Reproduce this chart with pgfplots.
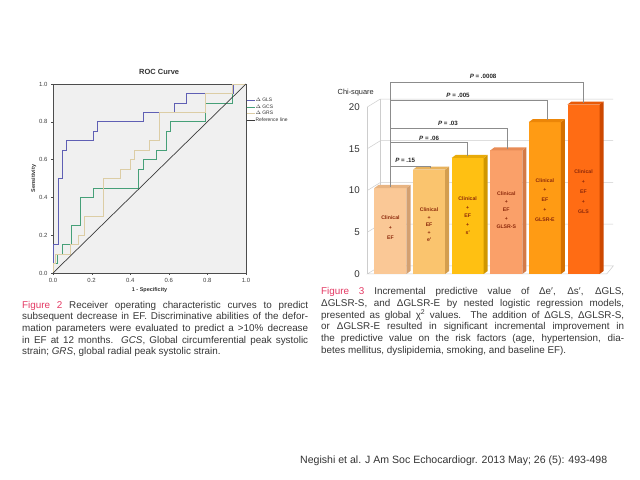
\documentclass[border=0pt]{standalone}
\usepackage{fontspec}
\setmainfont{Liberation Sans}
\usepackage{pgfplots}
\pgfplotsset{compat=1.18}
\definecolor{capred}{RGB}{228,58,100}
\definecolor{captxt}{RGB}{55,55,55}
\definecolor{glsc}{RGB}{95,95,180}
\definecolor{gcsc}{RGB}{70,160,120}
\definecolor{grsc}{RGB}{220,205,165}
\definecolor{refc}{RGB}{60,60,60}
\definecolor{rocbg}{RGB}{240,240,240}
\definecolor{gridc}{RGB}{205,205,205}
\definecolor{brkc}{RGB}{140,140,140}
\definecolor{bartxt}{RGB}{140,40,10}
\definecolor{fA}{RGB}{250,200,150}\definecolor{sA}{RGB}{212,160,112}\definecolor{tA}{RGB}{232,180,130}
\definecolor{fB}{RGB}{250,196,110}\definecolor{sB}{RGB}{212,158,78}\definecolor{tB}{RGB}{232,178,92}
\definecolor{fC}{RGB}{255,192,18}\definecolor{sC}{RGB}{208,150,0}\definecolor{tC}{RGB}{232,170,8}
\definecolor{fD}{RGB}{250,160,105}\definecolor{sD}{RGB}{212,122,70}\definecolor{tD}{RGB}{232,140,86}
\definecolor{fE}{RGB}{255,155,20}\definecolor{sE}{RGB}{212,112,0}\definecolor{tE}{RGB}{236,134,8}
\definecolor{fF}{RGB}{255,108,20}\definecolor{sF}{RGB}{205,72,0}\definecolor{tF}{RGB}{232,90,8}
\newcommand{\Ltwo}[1]{\makebox[286bp][s]{#1}}
\newcommand{\Lthree}[1]{\makebox[303bp][s]{#1}}
\begin{document}
\begin{tikzpicture}
\fill[white] (0,0) rectangle (640bp,480bp);
\useasboundingbox (0,0) rectangle (640bp,480bp);

% ---------------- ROC curve ----------------
\begin{axis}[
  at={(53bp,207bp)}, anchor=south west,
  scale only axis, width=193bp, height=189bp,
  xmin=0, xmax=1, ymin=0, ymax=1,
  xtick={0,0.2,0.4,0.6,0.8,1}, ytick={0,0.2,0.4,0.6,0.8,1},
  tick label style={font=\fontsize{6}{6}\selectfont, text=black!75,
    /pgf/number format/fixed, /pgf/number format/fixed zerofill,
    /pgf/number format/precision=1, /pgf/number format/assume math mode=true},
  tick align=outside, tick pos=left, major tick length=2bp,
  tick style={black!70},
  axis background/.style={fill=rocbg},
  axis line style={black!70, line width=0.5bp},
  title={\bfseries ROC Curve},
  title style={font=\fontsize{7.5}{8}\selectfont, at={(0.55,1)}, anchor=south, yshift=0bp, text=black!80},
  xlabel={\bfseries 1 - Specificity}, ylabel={\bfseries Sensitivity},
  label style={font=\fontsize{5.5}{6}\selectfont, text=black!80},
  xlabel style={yshift=2bp}, ylabel style={yshift=-4bp},
  legend style={at={(1.0,0.93)}, anchor=north west, draw=none, fill=none,
    font=\fontsize{5}{5.5}\selectfont, inner sep=0pt, row sep=0.4bp,
    nodes={inner sep=0.6bp, text=black!80}},
  legend cell align=left,
  legend image code/.code={\draw[#1] (0bp,0bp) -- (8bp,0bp);},
  clip=false,
]
\addplot[glsc, line width=0.7bp] coordinates {
(0,0) (0,0.15) (0.026,0.15) (0.026,0.5) (0.048,0.5) (0.048,0.65) (0.069,0.65) (0.069,0.7)
(0.211,0.7) (0.211,0.75) (0.232,0.75) (0.232,0.8) (0.467,0.8) (0.467,0.85) (0.631,0.85)
(0.631,0.9) (0.692,0.9) (0.692,0.95) (0.934,0.95) (0.934,1) (1,1)};
\addlegendentry{$\Delta$ GLS}
\addplot[gcsc, line width=0.7bp] coordinates {
(0,0) (0,0.05) (0.02,0.05) (0.02,0.1) (0.05,0.1) (0.05,0.15) (0.095,0.15) (0.095,0.25)
(0.143,0.25) (0.143,0.4) (0.211,0.4) (0.211,0.45) (0.441,0.45) (0.441,0.55) (0.467,0.55)
(0.467,0.6) (0.536,0.6) (0.536,0.65) (0.588,0.65) (0.588,0.75) (0.61,0.75) (0.61,0.8)
(0.787,0.8) (0.787,0.9) (0.93,0.9) (0.93,1) (1,1)};
\addlegendentry{$\Delta$ GCS}
\addplot[grsc, line width=0.7bp] coordinates {
(0,0) (0,0.05) (0.01,0.05) (0.01,0.1) (0.09,0.1) (0.09,0.15) (0.13,0.15) (0.13,0.2)
(0.16,0.2) (0.16,0.3) (0.26,0.3) (0.26,0.5) (0.35,0.5) (0.35,0.55) (0.4,0.55) (0.4,0.6)
(0.42,0.6) (0.42,0.65) (0.5,0.65) (0.5,0.7) (0.55,0.7) (0.55,0.85) (0.79,0.85) (0.79,0.95)
(0.93,0.95) (0.93,1) (1,1)};
\addlegendentry{$\Delta$ GRS}
\addplot[refc, line width=0.7bp] coordinates {(0,0) (1,1)};
\addlegendentry{Reference line}
\end{axis}

% ---------------- Chi-square bars ----------------
\begin{axis}[
  at={(367.3bp,206bp)}, anchor=south west,
  scale only axis, width=247.1bp, height=196.2bp,
  xmin=-0.6, xmax=5.8, ymin=0, ymax=23.5, clip=false,
  axis x line=none, axis y line*=left, y axis line style={draw=none},
  ytick={0,5,10,15,20}, major tick length=0pt,
  yticklabel style={font=\fontsize{9.8}{10}\selectfont, text=black!80, xshift=-4bp,
    /pgf/number format/assume math mode=true},
]
% back wall grid and floor
\draw[gridc, line width=0.5bp] (axis cs:-0.6,0) -- (axis cs:5.6,0) -- (axis cs:5.77,0.96) -- (axis cs:-0.263,0.96) -- cycle;
\draw[gridc, line width=0.5bp] (axis cs:-0.6,5) -- (axis cs:-0.263,5.96) -- (axis cs:5.77,5.96);
\draw[gridc, line width=0.5bp] (axis cs:-0.6,10) -- (axis cs:-0.263,10.96) -- (axis cs:5.77,10.96);
\draw[gridc, line width=0.5bp] (axis cs:-0.6,15) -- (axis cs:-0.263,15.96) -- (axis cs:5.77,15.96);
\draw[gridc, line width=0.5bp] (axis cs:-0.6,20) -- (axis cs:-0.263,20.96) -- (axis cs:5.77,20.96);
\draw[gridc, line width=0.5bp] (axis cs:-0.263,0.96) -- (axis cs:-0.263,20.96);
\draw[gridc, line width=0.5bp] (axis cs:-0.6,0) -- (axis cs:-0.6,20);

% front faces
\addplot[ybar, bar width=32bp, bar shift=0pt, fill=fA, draw=none] coordinates {(0,10.3)};
\addplot[ybar, bar width=32bp, bar shift=0pt, fill=fB, draw=none] coordinates {(1,12.5)};
\addplot[ybar, bar width=32bp, bar shift=0pt, fill=fC, draw=none] coordinates {(2,13.9)};
\addplot[ybar, bar width=32bp, bar shift=0pt, fill=fD, draw=none] coordinates {(3,14.8)};
\addplot[ybar, bar width=32bp, bar shift=0pt, fill=fE, draw=none] coordinates {(4,18.2)};
\addplot[ybar, bar width=32bp, bar shift=0pt, fill=fF, draw=none] coordinates {(5,20.3)};
% side faces
\addplot[fill=sA, draw=none] coordinates {(0.415,0) (0.519,0.36) (0.519,10.66) (0.415,10.3)} -- cycle;
\addplot[fill=sB, draw=none] coordinates {(1.415,0) (1.519,0.36) (1.519,12.86) (1.415,12.5)} -- cycle;
\addplot[fill=sC, draw=none] coordinates {(2.415,0) (2.519,0.36) (2.519,14.26) (2.415,13.9)} -- cycle;
\addplot[fill=sD, draw=none] coordinates {(3.415,0) (3.519,0.36) (3.519,15.16) (3.415,14.8)} -- cycle;
\addplot[fill=sE, draw=none] coordinates {(4.415,0) (4.519,0.36) (4.519,18.56) (4.415,18.2)} -- cycle;
\addplot[fill=sF, draw=none] coordinates {(5.415,0) (5.519,0.36) (5.519,20.66) (5.415,20.3)} -- cycle;
% top faces
\addplot[fill=tA, draw=none] coordinates {(-0.415,10.3) (-0.311,10.66) (0.519,10.66) (0.415,10.3)} -- cycle;
\addplot[fill=tB, draw=none] coordinates {(0.585,12.5) (0.689,12.86) (1.519,12.86) (1.415,12.5)} -- cycle;
\addplot[fill=tC, draw=none] coordinates {(1.585,13.9) (1.689,14.26) (2.519,14.26) (2.415,13.9)} -- cycle;
\addplot[fill=tD, draw=none] coordinates {(2.585,14.8) (2.689,15.16) (3.519,15.16) (3.415,14.8)} -- cycle;
\addplot[fill=tE, draw=none] coordinates {(3.585,18.2) (3.689,18.56) (4.519,18.56) (4.415,18.2)} -- cycle;
\addplot[fill=tF, draw=none] coordinates {(4.585,20.3) (4.689,20.66) (5.519,20.66) (5.415,20.3)} -- cycle;

% text inside bars
\tikzset{btxt/.style={text=bartxt, align=center, inner sep=0pt}}
\node[btxt, font=\bfseries\fontsize{5.2}{10}\selectfont] at (axis cs:0,5.5) {Clinical\\+\\EF};
\node[btxt, font=\bfseries\fontsize{5.2}{7.5}\selectfont] at (axis cs:1,5.9) {Clinical\\+\\EF\\+\\e′};
\node[btxt, font=\bfseries\fontsize{5.2}{8.5}\selectfont] at (axis cs:2,6.95) {Clinical\\+\\EF\\+\\s′};
\node[btxt, font=\bfseries\fontsize{5.2}{8.5}\selectfont] at (axis cs:3,7.65) {Clinical\\+\\EF\\+\\GLSR-S};
\node[btxt, font=\bfseries\fontsize{5.2}{10}\selectfont] at (axis cs:4,8.85) {Clinical\\+\\EF\\+\\GLSR-E};
\node[btxt, font=\bfseries\fontsize{5.2}{10}\selectfont] at (axis cs:5,9.9) {Clinical\\+\\EF\\+\\GLS};

% significance brackets
\draw[brkc, line width=0.6bp] (axis cs:0,10.45) -- (axis cs:0,23.0) -- (axis cs:5,23.0) -- (axis cs:5,20.45);
\draw[brkc, line width=0.6bp] (axis cs:0,20.8) -- (axis cs:4.05,20.8) -- (axis cs:4.05,18.4);
\draw[brkc, line width=0.6bp] (axis cs:0,17.4) -- (axis cs:3.02,17.4) -- (axis cs:3.02,15.0);
\draw[brkc, line width=0.6bp] (axis cs:0,15.8) -- (axis cs:2,15.8) -- (axis cs:2,14.1);
\draw[brkc, line width=0.6bp] (axis cs:0,12.95) -- (axis cs:1.02,12.95) -- (axis cs:1.02,12.65);
\tikzset{plab/.style={font=\bfseries\fontsize{6.2}{6.5}\selectfont, text=black!85, inner sep=0pt}}
\node[plab] at (axis cs:0.38,13.6) {\textit{P} = .15};
\node[plab] at (axis cs:1.0,16.3) {\textit{P} = .06};
\node[plab] at (axis cs:1.49,18.05) {\textit{P} = .03};
\node[plab] at (axis cs:1.75,21.4) {\textit{P} = .005};
\node[plab] at (axis cs:2.4,23.65) {\textit{P} = .0008};
\node[font=\fontsize{7.4}{7.5}\selectfont, text=black!85, inner sep=0pt] at (axis cs:-0.9,21.7) {Chi-square};
\end{axis}

% ---------------- captions ----------------
\node[anchor=north west, inner sep=0pt, align=left,
      font=\fontsize{9.9}{11.6}\selectfont, text=captxt] at (22bp,179bp)
{\Ltwo{\textcolor{capred}{Figure 2} Receiver operating characteristic curves to predict}\\
\Ltwo{subsequent decrease in EF. Discriminative abilities of the defor-}\\
\Ltwo{mation parameters were evaluated to predict a >10\% decrease}\\
\Ltwo{in EF at 12 months. \textit{GCS}, Global circumferential peak systolic}\\
strain; \textit{GRS}, global radial peak systolic strain.};

\node[anchor=north west, inner sep=0pt, align=left,
      font=\fontsize{9.9}{11.9}\selectfont, text=captxt] at (321bp,193bp)
{\Lthree{\textcolor{capred}{Figure 3} Incremental predictive value of Δe′, Δs′, ΔGLS,}\\
\Lthree{ΔGLSR-S, and ΔGLSR-E by nested logistic regression models,}\\
\Lthree{presented as global χ\textsuperscript{2} values. The addition of ΔGLS, ΔGLSR-S,}\\
\Lthree{or ΔGLSR-E resulted in significant incremental improvement in}\\
\Lthree{the predictive value on the risk factors (age, hypertension, dia-}\\
betes mellitus, dyslipidemia, smoking, and baseline EF).};

\node[anchor=west, inner sep=0pt, font=\fontsize{10.6}{11}\selectfont, text=black!80] at (300bp,19bp)
{Negishi et al. J Am Soc Echocardiogr. 2013 May; 26 (5): 493-498};
\end{tikzpicture}
\end{document}
